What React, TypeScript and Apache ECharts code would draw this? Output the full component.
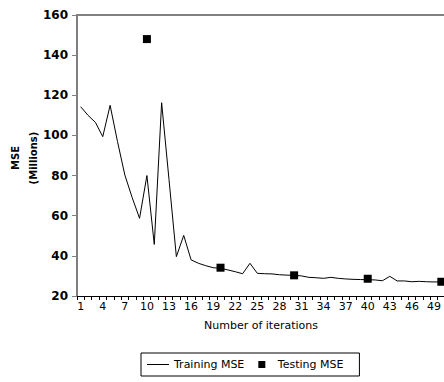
import React, { useEffect, useRef } from "react";
import * as echarts from "echarts";

const iterations: string[] = Array.from({ length: 50 }, (_, i) => String(i + 1));

const trainingMSE: number[] = [
  114.3, 110, 106.5, 99.4, 115, 97, 80.3, 69, 58.7, 80,
  45.7, 116.3, 78, 39.6, 50.2, 38, 36.3, 35.1, 34.1, 33.8,
  33, 32.1, 31.1, 36.3, 31.3, 31.1, 31, 30.6, 30.4, 30.3,
  30, 29.3, 29.1, 28.8, 29.3, 28.8, 28.5, 28.3, 28.2, 28.1,
  28, 27.6, 29.8, 27.5, 27.5, 27.1, 27.3, 27.1, 27, 27,
];

const testingIter: string[] = ["10", "20", "30", "40", "50"];
const testingMSE: number[] = [148, 34.1, 30.3, 28.6, 27.1];

const yTicks = { min: 20, max: 160, interval: 20 };
const yTitleLines: string[] = ["MSE", "(Millions)"];

export default function App() {
  const ref = useRef<HTMLDivElement>(null);
  useEffect(() => {
    if (!ref.current) return;
    const chart = echarts.init(ref.current, null, { renderer: "svg" });
    chart.setOption({
      animation: false,
      backgroundColor: "#fff",
      grid: { left: 77, top: 15, right: -1, bottom: 86, containLabel: false, outerBoundsMode: "none" },
      graphic: yTitleLines.map((t, i) => ({
        type: "text",
        x: 15 + i * 18,
        y: 158,
        rotation: Math.PI / 2,
        style: {
          text: t,
          fontFamily: "DejaVu Sans",
          fontWeight: "bold",
          fontSize: 10,
          fill: "#000",
          align: "center",
          verticalAlign: "middle",
        },
      })),
      legend: {
        data: [
          { name: "Training MSE", icon: "path://M0,0 L22,0 L22,1 L0,1 Z" },
          { name: "Testing MSE", icon: "path://M0,0 L7,0 L7,7 L0,7 Z" },
        ],
        bottom: 6,
        left: 141,
        itemGap: 14,
        itemWidth: 22,
        itemHeight: 7,
        borderColor: "#000",
        borderWidth: 1,
        borderRadius: 0,
        padding: [6, 16, 6, 6],
        textStyle: { fontFamily: "DejaVu Sans", fontSize: 11, color: "#000" },
      },
      xAxis: [
        {
          type: "category",
          data: iterations,
          boundaryGap: true,
          name: "Number of iterations",
          nameLocation: "middle",
          nameGap: 24,
          nameTextStyle: { fontFamily: "DejaVu Sans", fontSize: 11, color: "#000" },
          axisLine: { lineStyle: { color: "#000", width: 1 } },
          axisTick: { show: true, interval: 0, length: 4, lineStyle: { color: "#000" } },
          axisLabel: {
            interval: 2,
            margin: 5,
            fontFamily: "DejaVu Sans",
            fontSize: 11,
            color: "#000",
          },
          splitLine: { show: false },
        },
        {
          type: "category",
          data: iterations,
          position: "top",
          axisLine: { lineStyle: { color: "#808080", width: 2 } },
          axisTick: { show: false },
          axisLabel: { show: false },
          splitLine: { show: false },
        },
      ],
      yAxis: {
        type: "value",
        min: yTicks.min,
        max: yTicks.max,
        interval: yTicks.interval,
        axisLine: { show: true, lineStyle: { color: "#808080", width: 2 } },
        axisTick: { show: true, length: 5, lineStyle: { color: "#808080", width: 1 } },
        axisLabel: {
          margin: 9,
          fontFamily: "DejaVu Sans",
          fontWeight: "bold",
          fontSize: 12,
          color: "#000",
        },
        splitLine: { show: false },
      },
      series: [
        {
          name: "Training MSE",
          type: "line",
          data: trainingMSE,
          showSymbol: false,
          symbol: "none",
          lineStyle: { color: "#000", width: 1 },
          itemStyle: { color: "#000" },
        },
        {
          name: "Testing MSE",
          type: "scatter",
          data: testingIter.map((c, i) => [c, testingMSE[i]]),
          symbol: "rect",
          symbolSize: 8,
          itemStyle: { color: "#000", opacity: 1 },
        },
      ],
    });
    return () => chart.dispose();
  }, []);
  return <div ref={ref} style={{ width: 444, height: 382, position: "absolute", left: 0, top: 0 }} />;
}
